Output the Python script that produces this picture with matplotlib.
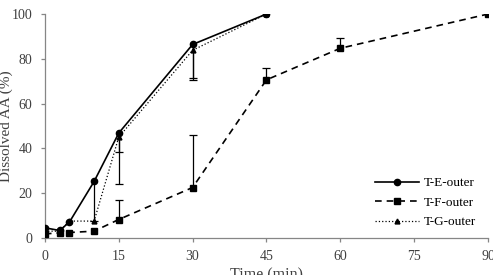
import numpy as np
import matplotlib.pyplot as plt

plt.rcParams['font.family'] = ['Liberation Serif', 'DejaVu Serif']
plt.rcParams['font.size'] = 10

time_e = [0, 3, 5, 10, 15, 30, 45]
te = [4.5, 3.3, 7.1, 25.2, 46.8, 86.4, 100]
te_err_low = [0, 0, 0, 17.5, 22.8, 14.8, 0]

time_f = [0, 3, 5, 10, 15, 30, 45, 60, 90]
tf = [1.8, 2.2, 2.4, 3.0, 8.2, 22.5, 70.6, 84.7, 100]
tf_err_up = [0, 0, 0, 0, 8.9, 23.5, 5.2, 4.5, 0]

time_g = [0, 3, 5, 10, 15, 30, 45]
tg = [3.0, 3.0, 7.5, 7.5, 45.0, 83.8, 100]
tg_err_low = [0, 0, 0, 0, 6.5, 13.2, 0]

xticks = [0, 15, 30, 45, 60, 75, 90]
yticks = [0, 20, 40, 60, 80, 100]

fig = plt.figure(figsize=(4.93, 2.75), dpi=100)
ax = fig.add_axes([0.091, 0.135, 0.899, 0.814])

ax.plot(time_e, te, '-', color='black', lw=1.2, marker='o', ms=4.5, label='T-E-outer', zorder=3)
ax.plot(time_f, tf, '--', color='black', lw=1.2, marker='s', ms=4.5, dashes=(4, 3), label='T-F-outer', zorder=3)
ax.plot(time_g, tg, ':', color='black', lw=0.9, marker='^', ms=3.5, label='T-G-outer', zorder=3)


def one_sided(x, y, err, sign):
    x = np.array(x); y = np.array(y); err = np.array(err)
    m = err > 0
    ends = y[m] + sign * err[m]
    ax.vlines(x[m], y[m], ends, color='black', lw=0.9, zorder=2)
    ax.scatter(x[m], ends, marker='_', s=30, color='black', linewidths=0.9, zorder=2)


one_sided(time_e, te, te_err_low, -1)
one_sided(time_g, tg, tg_err_low, -1)
one_sided(time_f, tf, tf_err_up, 1)

ax.set_xlim(0, 90)
ax.set_ylim(0, 100)
ax.set_xticks(xticks)
ax.set_yticks(yticks)
for s in ['top', 'right']:
    ax.spines[s].set_visible(False)
for s in ['left', 'bottom']:
    ax.spines[s].set_color('#868686')
    ax.spines[s].set_linewidth(0.9)
ax.tick_params(axis='both', colors='#868686', labelcolor='#404040', length=3, width=0.9,
               direction='out', labelsize=10)
ax.tick_params(axis='x', pad=6)
ax.tick_params(axis='y', pad=6)

ax.set_xlabel('Time (min)', color='#404040', labelpad=3, fontsize=11.5)
ax.set_ylabel('Dissolved AA (%)', color='#404040', fontsize=11)
ax.yaxis.set_label_coords(-0.073, 0.5)

ax.legend(loc='lower right', bbox_to_anchor=(1.0, -0.01), frameon=False, handlelength=3.3,
          labelspacing=0.55, handletextpad=0.4, fontsize=9.5)

plt.savefig('out.png', dpi=100)
